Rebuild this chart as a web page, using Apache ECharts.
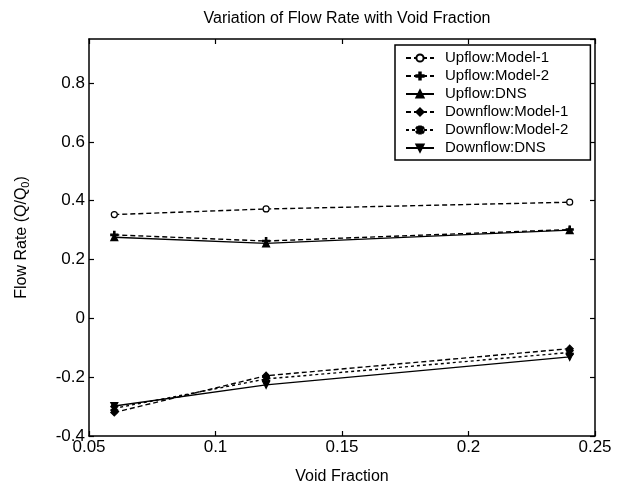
<!DOCTYPE html>
<html>
<head>
<meta charset="utf-8">
<script src="https://cdn.jsdelivr.net/npm/echarts@6/dist/echarts.min.js"></script>
<style>
  html, body { margin: 0; padding: 0; background: #fff; }
  #chart { width: 619px; height: 490px; }
</style>
</head>
<body>
<div id="chart"></div>
<script>
// void fraction values (x)
var voidFraction = [0.06, 0.12, 0.24];

// flow rate Q/Q0 for each case
var upModel1 = [0.353, 0.372, 0.395];
var upModel2 = [0.284, 0.263, 0.302];
var upDNS = [0.276, 0.255, 0.300];
var downModel1 = [-0.320, -0.195, -0.103];
var downModel2 = [-0.306, -0.206, -0.116];
var downDNS = [-0.298, -0.226, -0.131];

var seriesNames = [
  "Upflow:Model-1", "Upflow:Model-2", "Upflow:DNS",
  "Downflow:Model-1", "Downflow:Model-2", "Downflow:DNS"
];

var xTicks = [0.05, 0.1, 0.15, 0.2, 0.25];
var yTicks = [-0.4, -0.2, 0, 0.2, 0.4, 0.6, 0.8];

var font = "Liberation Sans, Arial, sans-serif";

function pairs(ys) {
  return voidFraction.map(function (x, i) { return [x, ys[i]]; });
}

var plusPath = "path://M4,0 L6,0 L6,4 L10,4 L10,6 L6,6 L6,10 L4,10 L4,6 L0,6 L0,4 L4,4 Z";
var starPath = "path://M4,0 L6,0 L6,3 L8.5,1 L9.5,2.5 L7,5 L9.5,7.5 L8.5,9 L6,7 L6,10 L4,10 L4,7 L1.5,9 L0.5,7.5 L3,5 L0.5,2.5 L1.5,1 L4,3 Z";
var downTri = "path://M0,0 L10,0 L5,9 Z";

function mk(name, ys, type, symbol, size, fill) {
  return {
    name: name,
    type: "line",
    data: pairs(ys),
    symbol: symbol,
    symbolSize: size,
    showSymbol: true,
    lineStyle: { color: "#000", width: 1.4, type: type },
    itemStyle: { color: fill, borderColor: "#000", borderWidth: 1.2 },
    emphasis: { disabled: true },
    z: 3
  };
}

var chart = echarts.init(document.getElementById("chart"));

chart.setOption({
  animation: false,
  backgroundColor: "#fff",
  textStyle: { fontFamily: font, color: "#000" },
  title: {
    text: "Variation of Flow Rate with Void Fraction",
    left: 342,
    textAlign: "center",
    top: 6,
    textStyle: { fontFamily: font, fontSize: 16, fontWeight: "normal", color: "#000" }
  },
  grid: { left: 89, right: 24, top: 39, bottom: 54, show: false },
  legend: {
    orient: "vertical",
    left: 395,
    top: 45,
    padding: [5, 22, 4, 10],
    itemGap: 2,
    itemWidth: 28,
    itemHeight: 9,
    backgroundColor: "#fff",
    borderColor: "#000",
    borderWidth: 1.5,
    textStyle: { fontFamily: font, fontSize: 15, lineHeight: 16, color: "#000", padding: [0, 0, 0, 6] },
    data: seriesNames
  },
  xAxis: [
    {
      type: "value",
      min: 0.05,
      max: 0.25,
      interval: 0.05,
      name: "Void Fraction",
      nameLocation: "middle",
      nameGap: 33,
      nameTextStyle: { fontFamily: font, fontSize: 16, color: "#000" },
      axisLine: { show: true, onZero: false, lineStyle: { color: "#000", width: 1.5 } },
      axisTick: { show: true, inside: true, length: 5, lineStyle: { color: "#000", width: 1.2 } },
      axisLabel: {
        fontFamily: font, fontSize: 17, color: "#000", margin: 3,
        formatter: function (v) { return String(+v.toFixed(2)); }
      },
      splitLine: { show: false }
    },
    {
      type: "value",
      position: "top",
      min: 0.05,
      max: 0.25,
      interval: 0.05,
      axisLine: { show: true, onZero: false, lineStyle: { color: "#000", width: 1.5 } },
      axisTick: { show: true, inside: true, length: 5, lineStyle: { color: "#000", width: 1.2 } },
      axisLabel: { show: false },
      splitLine: { show: false }
    }
  ],
  yAxis: [
    {
      type: "value",
      min: -0.4,
      max: 0.95,
      interval: 0.2,
      name: "Flow Rate (Q/Q{sub|0})",
      nameLocation: "middle",
      nameGap: 58,
      nameRotate: 90,
      nameTextStyle: {
        fontFamily: font, fontSize: 16, color: "#000",
        rich: { sub: { fontFamily: font, fontSize: 11, verticalAlign: "bottom", padding: [8, 0, 0, 0] } }
      },
      axisLine: { show: true, onZero: false, lineStyle: { color: "#000", width: 1.5 } },
      axisTick: { show: true, inside: true, length: 5, lineStyle: { color: "#000", width: 1.2 } },
      axisLabel: {
        fontFamily: font, fontSize: 17, color: "#000", margin: 4,
        showMaxLabel: false,
        formatter: function (v) {
          var r = +v.toFixed(2);
          return yTicks.indexOf(r) >= 0 ? String(r) : "";
        }
      },
      splitLine: { show: false }
    },
    {
      type: "value",
      position: "right",
      min: -0.4,
      max: 0.95,
      interval: 0.2,
      axisLine: { show: true, onZero: false, lineStyle: { color: "#000", width: 1.5 } },
      axisTick: { show: true, inside: true, length: 5, lineStyle: { color: "#000", width: 1.2 } },
      axisLabel: { show: false },
      splitLine: { show: false }
    }
  ],
  series: [
    mk(seriesNames[0], upModel1, [5, 3], "circle", 6, "#fff"),
    mk(seriesNames[1], upModel2, [5, 3], plusPath, 7, "#000"),
    mk(seriesNames[2], upDNS, "solid", "triangle", 7, "#000"),
    mk(seriesNames[3], downModel1, [5, 3], "diamond", 7, "#000"),
    mk(seriesNames[4], downModel2, [3, 3], starPath, 7, "#000"),
    mk(seriesNames[5], downDNS, "solid", downTri, 7, "#000")
  ]
});
</script>
</body>
</html>
